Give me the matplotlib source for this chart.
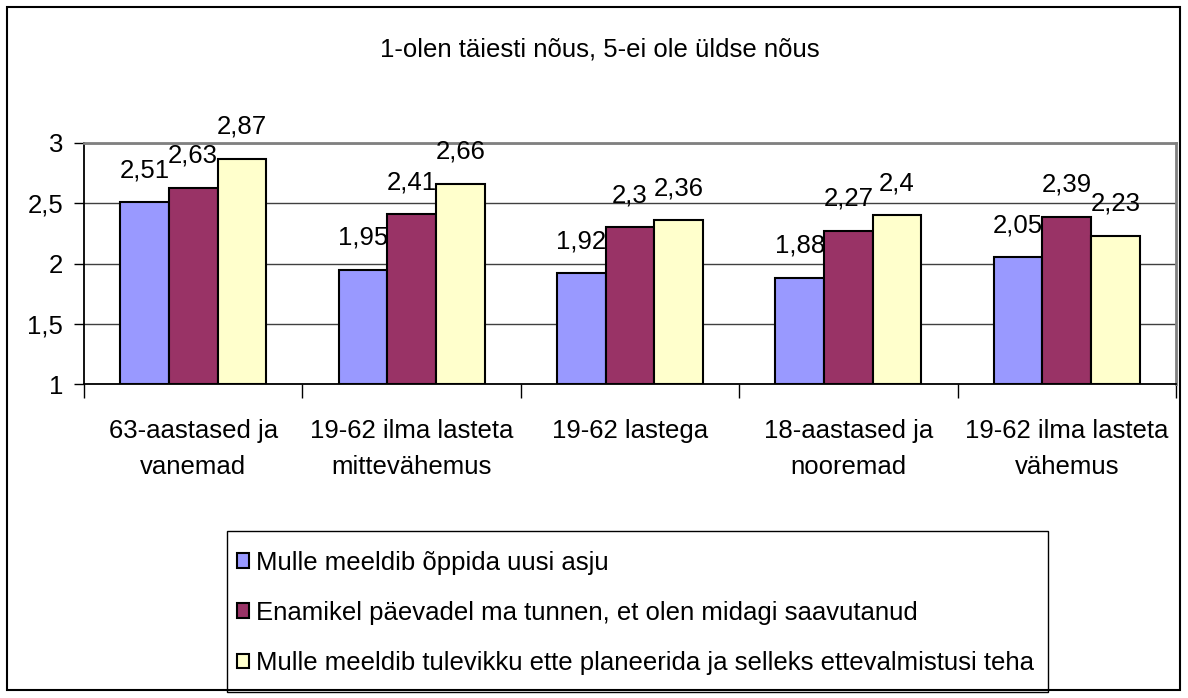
import numpy as np
import matplotlib.pyplot as plt
from matplotlib.patches import Rectangle

plt.rcParams['font.family'] = ['Liberation Sans', 'DejaVu Sans']

categories = ['63-aastased ja\nvanemad', '19-62 ilma lasteta\nmittevähemus', '19-62 lastega',
              '18-aastased ja\nnooremad', '19-62 ilma lasteta\nvähemus']
series_names = ['Mulle meeldib õppida uusi asju',
                'Enamikel päevadel ma tunnen, et olen midagi saavutanud',
                'Mulle meeldib tulevikku ette planeerida ja selleks ettevalmistusi teha']
learn_new = [2.51, 1.95, 1.92, 1.88, 2.05]
achieved = [2.63, 2.41, 2.30, 2.27, 2.39]
plan_ahead = [2.87, 2.66, 2.36, 2.40, 2.23]
label_text = [['2,51', '1,95', '1,92', '1,88', '2,05'],
              ['2,63', '2,41', '2,3', '2,27', '2,39'],
              ['2,87', '2,66', '2,36', '2,4', '2,23']]
colors = ['#9999FF', '#993366', '#FFFFCC']
yticks = [1, 1.5, 2, 2.5, 3]
ytick_labels = ['1', '1,5', '2', '2,5', '3']

W, H = 1188, 698
fig = plt.figure(figsize=(W / 100, H / 100), dpi=100)
ax = fig.add_axes([84 / W, 1 - 384 / H, (1176 - 84) / W, (384 - 143) / H])

x = np.arange(len(categories))
bw = 0.223
fs = 18.5
handles = []
for i, vals in enumerate([learn_new, achieved, plan_ahead]):
    pos = x + (i - 1) * bw
    b = ax.bar(pos, np.array(vals) - 1, bw, bottom=1, color=colors[i], edgecolor='black',
               linewidth=1.5, label=series_names[i], zorder=3)
    handles.append(b)
    for p, v, t in zip(pos, vals, label_text[i]):
        ax.annotate(t, (p, v), xytext=(0, 18), textcoords='offset points',
                    ha='center', va='baseline', fontsize=fs, annotation_clip=False)

ax.set_xlim(-0.5, len(categories) - 0.5)
ax.set_ylim(1, 3)
ax.set_yticks(yticks)
ax.set_yticklabels(ytick_labels, fontsize=fs)
ax.yaxis.grid(True, color='#404040', linewidth=1, zorder=0)
ax.set_axisbelow(True)
ax.tick_params(axis='y', length=7, width=1, direction='out', pad=8)

ax.set_xticks(x)
ax.set_xticklabels(categories, fontsize=fs, linespacing=1.65)
ax.tick_params(axis='x', which='major', length=0, pad=25)
ax.set_xticks(np.arange(-0.5, len(categories), 1), minor=True)
ax.tick_params(axis='x', which='minor', length=10, width=1, direction='out')

for s in ['left', 'bottom']:
    ax.spines[s].set_color('black')
    ax.spines[s].set_linewidth(1.3)
for s in ['top', 'right']:
    ax.spines[s].set_color('#808080')
    ax.spines[s].set_linewidth(2)

fig.text(600 / W, 1 - 49 / H, '1-olen täiesti nõus, 5-ei ole üldse nõus', ha='center', va='center', fontsize=fs)

# legend box drawn separately so the text can sit close to its left edge
fig.patches.append(Rectangle((227 / W, 1 - 692 / H), (1048 - 227) / W, (692 - 531) / H,
                             transform=fig.transFigure, facecolor='white', edgecolor='black',
                             linewidth=1, zorder=1))
leg = fig.legend(handles=handles, loc='upper left', bbox_to_anchor=(217 / W, 1 - 531 / H),
                 fontsize=fs, frameon=False,
                 handlelength=0.5, handleheight=0.5, handletextpad=0.25, labelspacing=1.02,
                 borderpad=0.76, borderaxespad=0)
leg.set_zorder(2)

fig.patches.append(Rectangle((7 / W, 1 - 690 / H), (1180 - 7) / W, (690 - 7) / H,
                             transform=fig.transFigure, fill=False, edgecolor='black', linewidth=1.5))

fig.savefig('out.png', dpi=100)
